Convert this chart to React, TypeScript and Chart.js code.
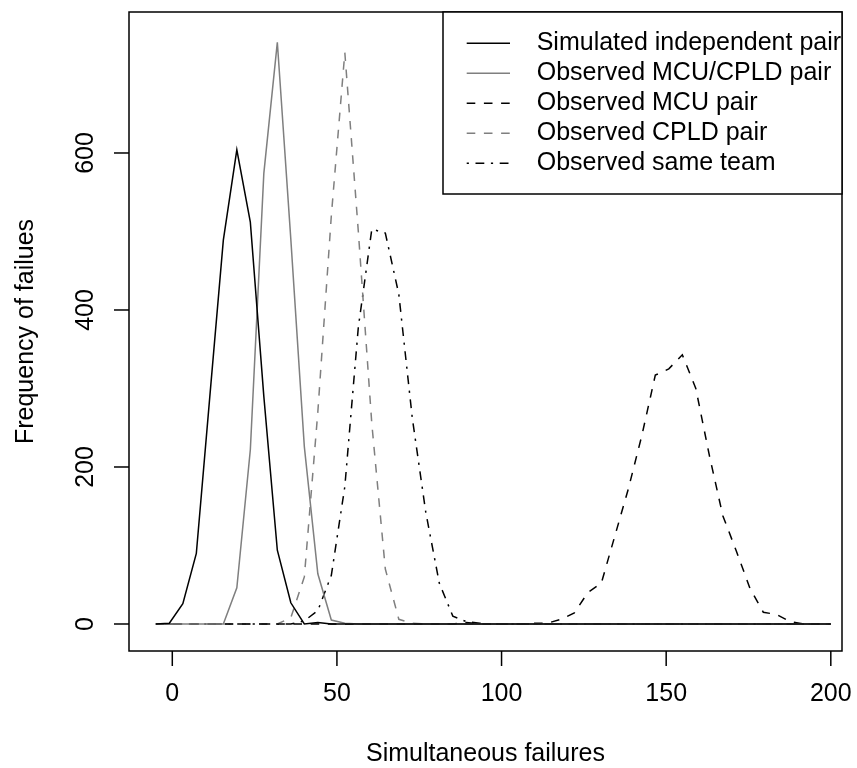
import React, { useEffect, useRef } from "react";
import { Chart, registerables } from "chart.js";

Chart.register(...registerables);

// Simultaneous failures (x positions of the sampled curve)
const X_VALUES = [
  -5, -0.9, 3.2, 7.3, 11.4, 15.5, 19.6, 23.7, 27.8, 31.9, 36, 40.1, 44.2, 48.3, 52.4, 56.5, 60.6,
  64.7, 68.8, 72.9, 77, 81.1, 85.2, 89.3, 93.4, 97.5, 101.6, 105.7, 109.8, 113.9, 118, 122.1,
  126.2, 130.3, 134.4, 138.5, 142.6, 146.7, 150.8, 154.9, 159, 163.1, 167.2, 171.3, 175.4, 179.5,
  183.6, 187.7, 191.8, 195.9, 200,
];

const SIMULATED = [
  0, 1, 26, 90, 290, 489, 604, 512, 290, 94, 27, 0, 2, 0, 0, 0, 0, 0, 0, 0, 0, 0, 0, 0, 0, 0, 0,
  0, 0, 0, 0, 0, 0, 0, 0, 0, 0, 0, 0, 0, 0, 0, 0, 0, 0, 0, 0, 0, 0, 0, 0,
];

const MCU_CPLD = [
  0, 0, 0, 0, 0, 0, 46, 222, 574, 741, 490, 226, 64, 5, 1, 0, 0, 0, 0, 0, 0, 0, 0, 0, 0, 0, 0, 0,
  0, 0, 0, 0, 0, 0, 0, 0, 0, 0, 0, 0, 0, 0, 0, 0, 0, 0, 0, 0, 0, 0, 0,
];

const MCU = [
  0, 0, 0, 0, 0, 0, 0, 0, 0, 0, 0, 0, 0, 0, 0, 0, 0, 0, 0, 0, 0, 0, 0, 2, 0, 0, 0, 0, 1, 1, 6, 14,
  40, 52, 112, 172, 240, 317, 325, 343, 300, 215, 138, 93, 46, 15, 12, 3, 0, 0, 0,
];

const CPLD = [
  0, 0, 0, 0, 0, 0, 0, 0, 0, 0, 8, 60, 270, 520, 728, 500, 255, 70, 6, 1, 0, 0, 0, 0, 0, 0, 0, 0,
  0, 0, 0, 0, 0, 0, 0, 0, 0, 0, 0, 0, 0, 0, 0, 0, 0, 0, 0, 0, 0, 0, 0,
];

const SAME_TEAM = [
  0, 0, 0, 0, 0, 0, 0, 0, 0, 0, 0, 4, 17, 62, 175, 378, 503, 498, 420, 262, 142, 52, 10, 3, 1, 0,
  0, 0, 0, 0, 0, 0, 0, 0, 0, 0, 0, 0, 0, 0, 0, 0, 0, 0, 0, 0, 0, 0, 0, 0, 0,
];

const X_TICKS = [0, 50, 100, 150, 200];
const Y_TICKS = [0, 200, 400, 600];

const SERIES_LABELS = [
  "Simulated independent pair",
  "Observed MCU/CPLD pair",
  "Observed MCU pair",
  "Observed CPLD pair",
  "Observed same team",
];

const GRAY = "#7f7f7f";
const DASH = [8.6, 8.6];
const DOTDASH = [2.2, 6.6, 8.8, 6.6];
const STYLES = [
  { color: "#000000", dash: [] as number[] },
  { color: GRAY, dash: [] as number[] },
  { color: "#000000", dash: DASH },
  { color: GRAY, dash: DASH },
  { color: "#000000", dash: DOTDASH },
];
const SERIES = [SIMULATED, MCU_CPLD, MCU, CPLD, SAME_TEAM];

const FONT = '25px "Liberation Sans", Arial, Helvetica, sans-serif';

const rBasePlugin = {
  id: "rBase",
  afterDraw(chart: any) {
    const { ctx, chartArea: a, scales } = chart;
    const xs = scales.x;
    const ys = scales.y;
    ctx.save();
    ctx.strokeStyle = "#000";
    ctx.fillStyle = "#000";
    ctx.lineWidth = 1.5;
    ctx.setLineDash([]);
    // plot box
    ctx.strokeRect(a.left, a.top, a.right - a.left, a.bottom - a.top);
    ctx.font = FONT;
    ctx.textAlign = "center";
    ctx.textBaseline = "middle";
    // x axis
    X_TICKS.forEach((v) => {
      const px = xs.getPixelForValue(v);
      ctx.beginPath();
      ctx.moveTo(px, a.bottom);
      ctx.lineTo(px, a.bottom + 15);
      ctx.stroke();
      ctx.fillText(String(v), px, a.bottom + 43);
    });
    // y axis
    Y_TICKS.forEach((v) => {
      const py = ys.getPixelForValue(v);
      ctx.beginPath();
      ctx.moveTo(a.left - 15, py);
      ctx.lineTo(a.left, py);
      ctx.stroke();
      ctx.save();
      ctx.translate(a.left - 43, py);
      ctx.rotate(-Math.PI / 2);
      ctx.fillText(String(v), 0, 0);
      ctx.restore();
    });
    // titles
    ctx.fillText("Simultaneous failures", (a.left + a.right) / 2, a.bottom + 103);
    ctx.save();
    ctx.translate(a.left - 103, (a.top + a.bottom) / 2);
    ctx.rotate(-Math.PI / 2);
    ctx.fillText("Frequency of failues", 0, 0);
    ctx.restore();

    // legend (top right)
    const lw = 399;
    const lh = 182;
    const lx = a.right - lw;
    const ly = a.top;
    ctx.fillStyle = "#fff";
    ctx.fillRect(lx, ly, lw, lh);
    ctx.strokeStyle = "#000";
    ctx.strokeRect(lx, ly, lw, lh);
    ctx.textAlign = "left";
    SERIES_LABELS.forEach((label, i) => {
      const ry = ly + 31.3 + i * 30;
      ctx.strokeStyle = STYLES[i].color;
      ctx.setLineDash(STYLES[i].dash);
      ctx.beginPath();
      ctx.moveTo(lx + 23.7, ry);
      ctx.lineTo(lx + 67, ry);
      ctx.stroke();
      ctx.setLineDash([]);
      ctx.fillStyle = "#000";
      ctx.fillText(label, lx + 93.7, ry);
    });
    ctx.restore();
  },
};

export default function App() {
  const ref = useRef<HTMLCanvasElement | null>(null);

  useEffect(() => {
    document.body.style.margin = "0";
    const canvas = ref.current;
    if (!canvas) return;
    const datasets = SERIES.map((vals, i) => ({
      label: SERIES_LABELS[i],
      data: X_VALUES.map((xv, j) => ({ x: xv, y: vals[j] })),
      borderColor: STYLES[i].color,
      borderDash: STYLES[i].dash,
      borderWidth: 1.5,
      pointRadius: 0,
      tension: 0,
      fill: false,
    }));
    const chart = new Chart(canvas, {
      type: "line",
      data: { datasets },
      options: {
        animation: false,
        responsive: false,
        devicePixelRatio: 1,
        layout: { padding: { left: 129, right: 15, top: 12, bottom: 117 } },
        scales: {
          x: { type: "linear", min: -13.15, max: 203.4, display: false },
          y: { type: "linear", min: -34.4, max: 779.6, display: false },
        },
        plugins: {
          legend: { display: false },
          tooltip: { enabled: false },
        },
      },
      plugins: [rBasePlugin],
    });
    return () => chart.destroy();
  }, []);

  return (
    <div style={{ width: 857, height: 768, background: "#fff" }}>
      <canvas ref={ref} width={857} height={768} style={{ display: "block" }} />
    </div>
  );
}
